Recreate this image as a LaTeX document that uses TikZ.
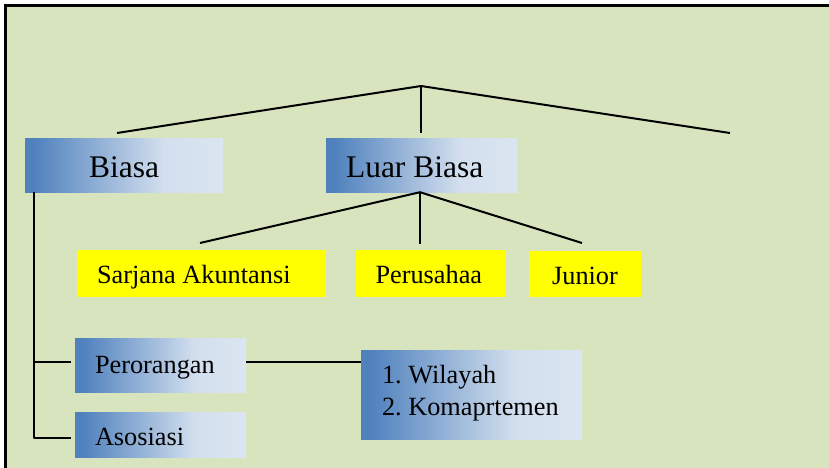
\documentclass[tikz,border=0pt]{standalone}
\usepackage{fontspec}
\setmainfont{Liberation Serif}

\definecolor{panel}{HTML}{D8E4BD}
\definecolor{bdark}{HTML}{4F81BD}
\definecolor{blight}{HTML}{DBE5F1}
\definecolor{hilite}{HTML}{FFFF00}

% left-to-right fade used by the blue boxes
\pgfdeclarehorizontalshading{boxfade}{100bp}{%
  color(0bp)=(bdark); color(27bp)=(bdark);
  color(60bp)=(blight!94!bdark); color(75bp)=(blight); color(100bp)=(blight)}

\tikzset{
  conn/.style={line width=2pt, black, line join=round},
  fadebox/.style={shading=boxfade, inner sep=0pt},
  yellowbox/.style={fill=hilite, inner sep=0pt},
  bigtext/.style={font=\fontsize{31.5}{38}\selectfont},
  smalltext/.style={font=\fontsize{26.3}{32}\selectfont},
  leftset/.style={align=flush left,
    execute at begin node={\frenchspacing\spaceskip=0pt\xspaceskip=0pt\hyphenpenalty=10000\relax}},
}

\begin{document}
\begin{tikzpicture}[x=1pt,y=-1pt]
\useasboundingbox (0,0) rectangle (829,467);
\clip (0,0) rectangle (829,467);
\fill[white] (0,0) rectangle (829,467);
\fill[panel] (5.5,5.5) rectangle (840,480);
\draw[line width=2.5pt] (5.5,480) -- (5.5,5.5) -- (840,5.5);

% first level
\node[fadebox, bigtext, minimum width=198, minimum height=54,
      text height=26, text depth=2] (biasa) at (124,165) {Biasa};
\node[fadebox, bigtext, leftset, minimum width=191, minimum height=54,
      text width=151, text height=26, text depth=2] (luar) at (421.5,165) {Luar Biasa};

% second level under Luar Biasa
\node[yellowbox, smalltext, leftset, minimum width=249, minimum height=47,
      text width=209, text height=21, text depth=2] (sarjana) at (201.5,273.5) {Sarjana Akuntansi};
\node[yellowbox, smalltext, leftset, minimum width=150, minimum height=47,
      text width=111, text height=21, text depth=2] (perusahaan) at (431,273.5) {Perusahaa};
\node[yellowbox, smalltext, minimum width=112, minimum height=46,
      text height=22, text depth=2] (junior) at (585,274) {Junior};

% second level under Biasa
\node[fadebox, smalltext, leftset, minimum width=171, minimum height=54,
      text width=131, text height=18, text depth=2] (pero) at (160.5,365) {Perorangan};
\node[fadebox, smalltext, leftset, minimum width=171, minimum height=45,
      text width=131, text height=23, text depth=2] (asos) at (160.5,434.5) {Asosiasi};
\node[fadebox, smalltext, leftset, minimum width=221, minimum height=89,
      text width=179, text height=18, text depth=41] (wil) at (471.5,394.5) {1. Wilayah\\2. Komaprtemen};

% upper fork
\coordinate (root) at (421,86);
\coordinate (t1) at (117,133);
\coordinate (t2) at (421,133);
\coordinate (t3) at (730,133);
\draw[conn] (t1) -- (root) -- (t3);
\draw[conn] (root) -- (t2);

% fork below Luar Biasa
\coordinate (s1) at (200,243);
\coordinate (s2) at (420,244);
\coordinate (s3) at (582,243);
\draw[conn] (s1) -- (luar.south -| s2) -- (s3);
\draw[conn] (luar.south -| s2) -- (s2);

% bracket below Biasa
\coordinate (b0) at (34,192);
\coordinate (b1) at (71,362);
\coordinate (b2) at (71,438);
\draw[conn] (b0) |- (b2);
\draw[conn] (b0 |- b1) -- (b1);
\draw[conn] (pero.east |- b1) -- (wil.west |- b1);
\end{tikzpicture}
\end{document}
